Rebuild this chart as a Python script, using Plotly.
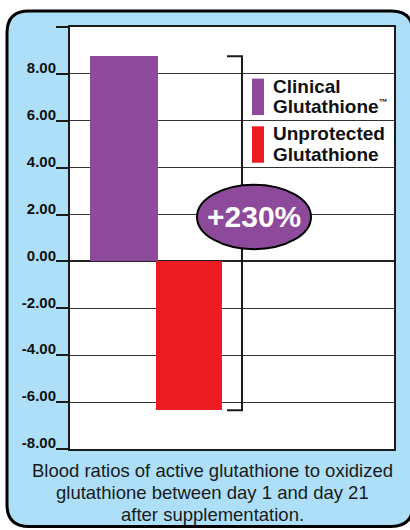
import plotly.graph_objects as go

# ---------------- data ----------------
categories = ["Clinical Glutathione™", "Unprotected Glutathione"]
legend_lines = [["Clinical", "Glutathione<sup><span style='font-size:9px'>™</span></sup>"],
                ["Unprotected", "Glutathione"]]
values = [8.75, -6.35]
colors = ["#8E4A9A", "#ED1C24"]
tick_values = [-8, -6, -4, -2, 0, 2, 4, 6, 8, 10]
tick_labels = ["-8.00", "-6.00", "-4.00", "-2.00", "0.00", "2.00", "4.00", "6.00", "8.00", " "]
increase_label = "+230%"
caption_lines = [
    "Blood ratios of active glutathione to oxidized",
    "glutathione between day 1 and day 21",
    "after supplementation.",
]

# ---------------- layout geometry (pixels) ----------------
W, H = 410, 530
L, R, T, B = 70, 394, 24, 449


def PX(x):
    return (x - L) / (R - L)


def PY(y):
    return (B - y) / (B - T)


BLUE = "#ADE0F8"
INK = "#1a1a1a"
FONT = "Liberation Sans, Arial, sans-serif"

fig = go.Figure()
widths = [1.046, 1.015]
for i, (cat, v) in enumerate(zip(categories, values)):
    fig.add_trace(go.Bar(x=[cat], y=[v], marker=dict(color=colors[i], line=dict(width=0)),
                         width=widths[i], name=cat, showlegend=False, hoverinfo="skip"))

shapes = []
# outer rounded box
x0, y0, x1, y1, r = 7, 8, 413, 527, 22
path = (f"M {PX(x0+r)},{PY(y0)} L {PX(x1-r)},{PY(y0)} Q {PX(x1)},{PY(y0)} {PX(x1)},{PY(y0+r)} "
        f"L {PX(x1)},{PY(y1-r)} Q {PX(x1)},{PY(y1)} {PX(x1-r)},{PY(y1)} "
        f"L {PX(x0+r)},{PY(y1)} Q {PX(x0)},{PY(y1)} {PX(x0)},{PY(y1-r)} "
        f"L {PX(x0)},{PY(y0+r)} Q {PX(x0)},{PY(y0)} {PX(x0+r)},{PY(y0)} Z")
shapes.append(dict(type="path", xref="paper", yref="paper", path=path, fillcolor=BLUE,
                   line=dict(color="black", width=3), layer="below"))
# white plot area
shapes.append(dict(type="rect", xref="paper", yref="paper", x0=0, x1=1, y0=0, y1=1,
                   fillcolor="white", line=dict(width=0), layer="below"))
# legend swatches
sw = [(76, 112.7), (124, 160.7)]
for i, (a, b) in enumerate(sw):
    shapes.append(dict(type="rect", xref="paper", yref="paper", x0=PX(252), x1=PX(264),
                       y0=PY(b), y1=PY(a), fillcolor=colors[i], line=dict(width=0), layer="above"))
# bracket from top of first bar to bottom of second bar
bx0, bx1 = 1.585, 1.815
shapes.append(dict(type="path", xref="x", yref="y",
                   path=f"M {bx0},{values[0]} L {bx1},{values[0]} L {bx1},{values[1]} L {bx0},{values[1]}",
                   line=dict(color=INK, width=2), layer="above"))
# ellipse
ecx, ecy, erx, ery = 2.0, 1.9, 0.877, 1.375
shapes.append(dict(type="circle", xref="x", yref="y", x0=ecx - erx, x1=ecx + erx,
                   y0=ecy - ery, y1=ecy + ery, fillcolor=colors[0],
                   line=dict(color="black", width=2), layer="above"))

annotations = []
annotations.append(dict(x=ecx, y=ecy, xref="x", yref="y", text=f"<b>{increase_label}</b>",
                        showarrow=False, font=dict(family=FONT, size=30, color="white")))
leg_y = [[83.5, 104.5], [131.5, 152.5]]
for i, lines in enumerate(legend_lines):
    for j, txt in enumerate(lines):
        annotations.append(dict(x=PX(271), y=PY(leg_y[i][j]), xref="paper", yref="paper",
                                xanchor="left", yanchor="middle", text=f"<b>{txt}</b>",
                                showarrow=False, font=dict(family=FONT, size=19, color="#111")))
cap_y = [471, 493, 514.5]
for txt, yy in zip(caption_lines, cap_y):
    annotations.append(dict(x=PX(212.5), y=PY(yy), xref="paper", yref="paper",
                            xanchor="center", yanchor="middle", text=txt, showarrow=False,
                            font=dict(family=FONT, size=18.5, color=INK)))

fig.update_layout(
    width=W, height=H,
    margin=dict(l=L, r=W - R, t=T, b=H - B, pad=0),
    paper_bgcolor="white", plot_bgcolor="white",
    barmode="overlay", bargap=0,
    shapes=shapes, annotations=annotations,
    xaxis=dict(type="category", categoryarray=categories, range=[-0.831, 4.154],
               showticklabels=False, ticks="", showgrid=False, zeroline=False,
               showline=True, mirror=True, linecolor=INK, linewidth=2),
    yaxis=dict(range=[-8, 10], tickvals=tick_values, ticktext=tick_labels,
               ticks="outside", ticklen=12, tickwidth=1.5, tickcolor=INK,
               ticklabelshift=-6, ticklabelstandoff=-3,
               tickfont=dict(family=FONT, size=15, color="#111", weight="bold"),
               showgrid=True, gridcolor="#333", gridwidth=1.3,
               zeroline=True, zerolinecolor="#222", zerolinewidth=1.6,
               showline=True, mirror=True, linecolor=INK, linewidth=2),
)

fig.write_html("out.html", config={"displayModeBar": False},
               post_script="document.body.style.margin='0';document.body.style.overflow='hidden';")
